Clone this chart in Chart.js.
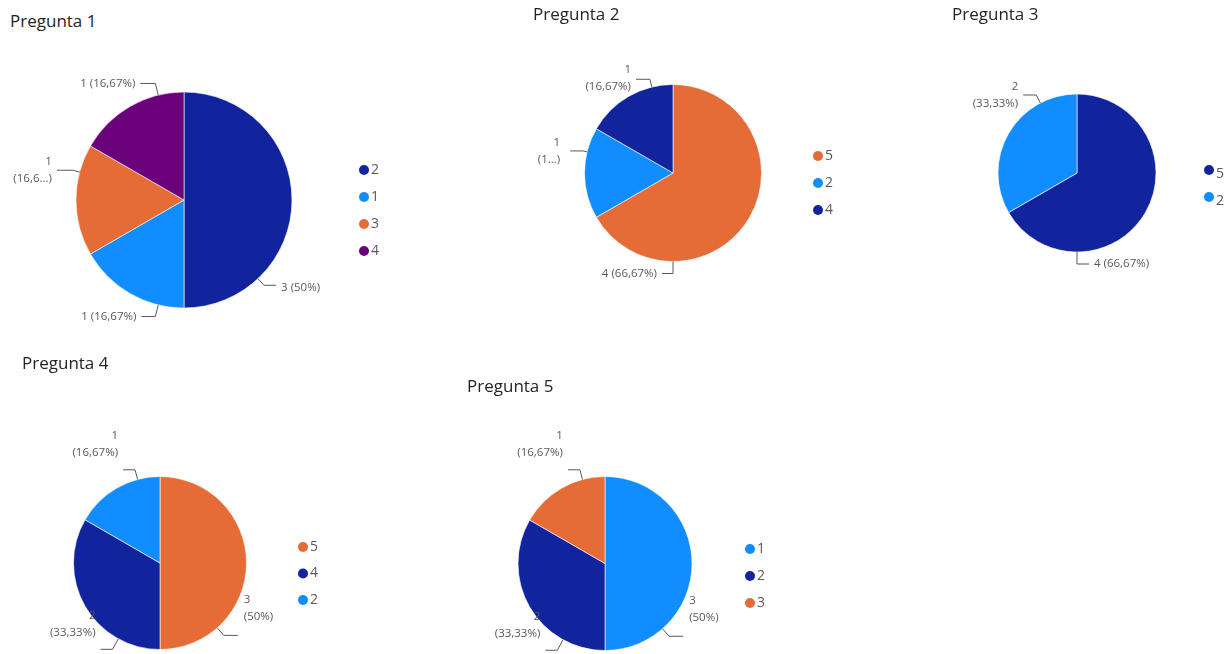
<!DOCTYPE html>
<html lang="es">
<head>
<meta charset="utf-8">
<title>Encuesta - Preguntas 1 a 5</title>
<script src="https://cdn.jsdelivr.net/npm/chart.js@4.4.1/dist/chart.umd.min.js"></script>
<style>
  html, body { margin: 0; padding: 0; background: #ffffff; }
  #lienzo { position: relative; width: 1227px; height: 654px; overflow: hidden; }
  #lienzo canvas { position: absolute; left: 0; top: 0; }
  .titulo {
    position: absolute;
    font-family: "Open Sans", "Noto Sans", sans-serif;
    font-size: 17px;
    color: #252423;
    white-space: nowrap;
    line-height: 1;
  }
</style>
</head>
<body>
<div id="lienzo"></div>
<script>
// Datos de cada pregunta: categoría de respuesta y número de respuestas
const preguntas = ['Pregunta 1', 'Pregunta 2', 'Pregunta 3', 'Pregunta 4', 'Pregunta 5'];

const categorias1 = ['2', '1', '3', '4'];
const valores1 = [3, 1, 1, 1];

const categorias2 = ['5', '2', '4'];
const valores2 = [4, 1, 1];

const categorias3 = ['5', '2'];
const valores3 = [4, 2];

const categorias4 = ['5', '4', '2'];
const valores4 = [3, 2, 1];

const categorias5 = ['1', '2', '3'];
const valores5 = [3, 2, 1];

// Colores
const AZUL_OSCURO = '#12239E';
const AZUL = '#118DFF';
const NARANJA = '#E66C37';
const MORADO = '#6B007B';
const GRIS = '#5b5957';

const FUENTE = '"Open Sans", "Noto Sans", sans-serif';
const ANCHO = 1227;
const ALTO = 654;

// Formato de porcentaje con coma decimal
function formatoPct(v, total) {
    const p = Math.round(v / total * 10000) / 100;
    return p.toString().replace('.', ',') + '%';
}

// Texto cortado cuando no cabe en la etiqueta
function recortar(texto, corte) {
    if (!corte) return texto;
    return texto.slice(0, corte) + '...)';
}

// Etiquetas de datos con línea guía (valor y porcentaje)
const pluginEtiquetas = {
    id: 'etiquetas',
    afterDatasetsDraw(chart, args, opts) {
        const ctx = chart.ctx;
        const meta = chart.getDatasetMeta(0);
        const datos = chart.data.datasets[0].data;
        const total = datos.reduce((a, b) => a + b, 0);
        ctx.save();
        ctx.font = '11.5px ' + FUENTE;
        ctx.strokeStyle = GRIS;
        ctx.fillStyle = GRIS;
        ctx.lineWidth = 1;
        meta.data.forEach((arc, i) => {
            const L = opts.disposicion[i];
            const p = arc.getProps(['x', 'y', 'startAngle', 'endAngle', 'outerRadius'], true);
            const ang = p.startAngle + L.f * (p.endAngle - p.startAngle);
            const ax = p.x + p.outerRadius * Math.cos(ang);
            const ay = p.y + p.outerRadius * Math.sin(ang);
            const bx = ax + L.radial * Math.cos(ang);
            const by = ay + L.radial * Math.sin(ang);
            const lado = L.lado || (Math.cos(ang) < 0 ? -1 : 1);
            const cx = bx + lado * L.len;

            ctx.beginPath();
            ctx.moveTo(ax, ay);
            ctx.lineTo(bx, by);
            ctx.lineTo(cx, by);
            ctx.stroke();

            const valor = String(datos[i]);
            const pct = '(' + formatoPct(datos[i], total) + ')';
            const tx = cx + lado * (L.gap || 5);
            const ty = by + (L.dy || 0);
            ctx.textAlign = lado < 0 ? 'right' : 'left';
            ctx.textBaseline = 'middle';
            if (L.dos) {
                ctx.fillText(valor, tx, ty - 8.5);
                ctx.fillText(recortar(pct, L.corte), tx, ty + 8.5);
            } else {
                ctx.fillText(valor + ' ' + pct, tx, ty);
            }
        });
        ctx.restore();
    }
};

// Leyenda con marcadores circulares
const pluginLeyenda = {
    id: 'leyendaCirculos',
    afterDraw(chart, args, opts) {
        const ctx = chart.ctx;
        const ds = chart.data.datasets[0];
        ctx.save();
        ctx.font = '14px ' + FUENTE;
        ctx.textAlign = 'left';
        ctx.textBaseline = 'middle';
        chart.data.labels.forEach((etq, i) => {
            const y = opts.y + i * opts.paso;
            ctx.fillStyle = ds.backgroundColor[i];
            ctx.beginPath();
            ctx.arc(opts.x, y, 5, 0, Math.PI * 2);
            ctx.fill();
            ctx.fillStyle = GRIS;
            ctx.fillText(etq, opts.x + 7, y + (opts.dyTexto || 0));
        });
        ctx.restore();
    }
};

// Posición de cada gráfico: centro y radio de la tarta, leyenda, título
const graficos = [
    {
        categorias: categorias1, valores: valores1,
        colores: [AZUL_OSCURO, AZUL, NARANJA, MORADO],
        centro: [184, 200], radio: 108.5,
        titulo: [10, 12],
        leyenda: { x: 364, y: 170, paso: 27 },
        disposicion: [
            { f: 0.76, radial: 9, len: 12, dy: 2 },
            { f: 0.23, radial: 12, len: 14 },
            { f: 0.75, radial: 7, len: 16, dos: true, corte: 5 },
            { f: 0.77, radial: 12, len: 15 }
        ]
    },
    {
        categorias: categorias2, valores: valores2,
        colores: [NARANJA, AZUL, AZUL_OSCURO],
        centro: [673, 173], radio: 89,
        titulo: [533, 5],
        leyenda: { x: 818, y: 156, paso: 27 },
        disposicion: [
            { f: 0.75, radial: 12, len: 11, lado: -1 },
            { f: 0.73, radial: 4, len: 13, dos: true, corte: 2, gap: 10 },
            { f: 0.77, radial: 8, len: 14, dos: true, dy: -1 }
        ]
    },
    {
        categorias: categorias3, valores: valores3,
        colores: [AZUL_OSCURO, AZUL],
        centro: [1077, 173], radio: 79.5,
        titulo: [952, 5],
        leyenda: { x: 1209, y: 170, paso: 27, dyTexto: 4 },
        disposicion: [
            { f: 0.75, radial: 12, len: 12, lado: 1 },
            { f: 0.77, radial: 9, len: 13, dos: true }
        ]
    },
    {
        categorias: categorias4, valores: valores4,
        colores: [NARANJA, AZUL_OSCURO, AZUL],
        centro: [160, 563], radio: 87,
        titulo: [22, 354],
        leyenda: { x: 303, y: 547, paso: 26.5 },
        disposicion: [
            { f: 0.77, radial: 10, len: 14, dos: true, dy: -27, gap: 6 },
            { f: 0.24, radial: 12, len: 12, dos: true, dy: -25 },
            { f: 0.75, radial: 10, len: 12, dos: true, dy: -26 }
        ]
    },
    {
        categorias: categorias5, valores: valores5,
        colores: [AZUL, AZUL_OSCURO, NARANJA],
        centro: [605, 563.5], radio: 87.5,
        titulo: [467, 377],
        leyenda: { x: 750, y: 549, paso: 27 },
        disposicion: [
            { f: 0.77, radial: 10, len: 14, dos: true, dy: -27, gap: 6 },
            { f: 0.24, radial: 12, len: 12, dos: true, dy: -25 },
            { f: 0.75, radial: 10, len: 12, dos: true, dy: -26 }
        ]
    }
];

const lienzo = document.getElementById('lienzo');

graficos.forEach((g, n) => {
    const titulo = document.createElement('div');
    titulo.className = 'titulo';
    titulo.textContent = preguntas[n];
    titulo.style.left = g.titulo[0] + 'px';
    titulo.style.top = g.titulo[1] + 'px';
    lienzo.appendChild(titulo);

    const canvas = document.createElement('canvas');
    canvas.width = ANCHO;
    canvas.height = ALTO;
    lienzo.appendChild(canvas);

    const [cx, cy] = g.centro;
    const r = g.radio;

    new Chart(canvas.getContext('2d'), {
        type: 'pie',
        data: {
            labels: g.categorias,
            datasets: [{
                data: g.valores,
                backgroundColor: g.colores,
                borderColor: 'rgba(255, 255, 255, 0.6)',
                borderWidth: 1
            }]
        },
        options: {
            responsive: false,
            animation: false,
            layout: {
                padding: {
                    left: cx - r,
                    top: cy - r,
                    right: ANCHO - (cx + r),
                    bottom: ALTO - (cy + r)
                }
            },
            plugins: {
                legend: { display: false },
                tooltip: { enabled: false },
                etiquetas: { disposicion: g.disposicion },
                leyendaCirculos: g.leyenda
            }
        },
        plugins: [pluginEtiquetas, pluginLeyenda]
    });
});
</script>
</body>
</html>
